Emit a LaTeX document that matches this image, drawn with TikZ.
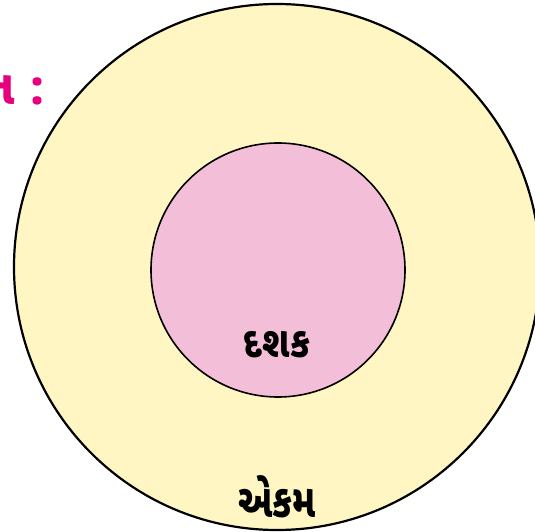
\documentclass[tikz,border=0pt]{standalone}
\usepackage{fontspec}
\usepackage{graphicx}
\newfontfamily\gujfont[Script=Gujarati]{Noto Sans Gujarati UI}
\definecolor{outerfill}{RGB}{255,246,196}
\definecolor{innerfill}{RGB}{243,190,215}
\definecolor{headpink}{RGB}{230,0,126}
\tikzset{
  ring/.style={circle, draw=black, inner sep=0pt},
  gujlabel/.style={text=black, inner sep=0pt},
}
\begin{document}
\begin{tikzpicture}[x=1pt,y=-1pt]
\useasboundingbox (0,0) rectangle (535,532);
\clip (0,0) rectangle (535,532);
\fill[white] (0,0) rectangle (535,532);
\node[ring, line width=2.2pt, fill=outerfill, minimum size=526pt] (outer) at (277,267) {};
\node[ring, line width=1.6pt, fill=innerfill, minimum size=254pt] (inner) at (278,270) {};
\node[gujlabel, font=\gujfont\bfseries\fontsize{36}{42}\selectfont] (tens) at (277,345) {\scalebox{1}[1.2]{દશક}};
\node[gujlabel, font=\gujfont\bfseries\fontsize{36}{42}\selectfont] (ones) at (277,497) {\scalebox{1}[1.3]{એકમ}};
\node[anchor=east, inner sep=0pt, text=headpink, font=\gujfont\bfseries\fontsize{48}{56}\selectfont] (head) at (46,90) {ત :};
\end{tikzpicture}
\end{document}
